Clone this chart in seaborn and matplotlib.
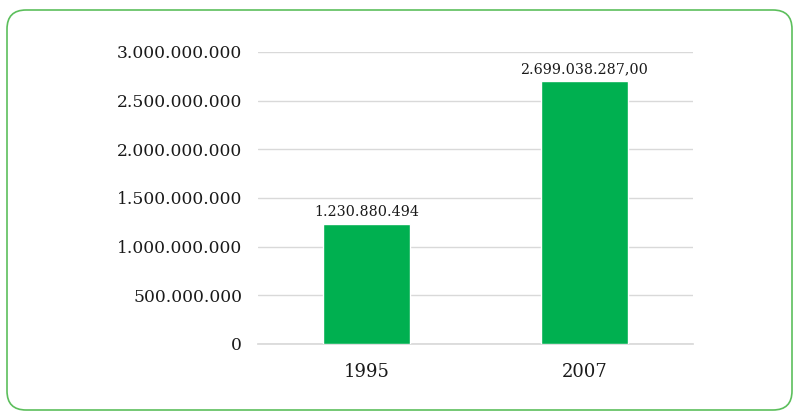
import matplotlib
matplotlib.use("Agg")
import matplotlib.pyplot as plt
import seaborn as sns
import pandas as pd
from matplotlib.patches import FancyBboxPatch
from matplotlib.ticker import FuncFormatter

years = ["1995", "2007"]
values = [1230880494, 2699038287.00]
bar_labels = ["1.230.880.494", "2.699.038.287,00"]
yticks = [0, 500000000, 1000000000, 1500000000, 2000000000, 2500000000, 3000000000]

sns.set_theme(style="white")
plt.rcParams['font.family'] = ['DejaVu Serif']

fig = plt.figure(figsize=(7.93, 4.12), dpi=100)
ax = fig.add_axes([258/793, 1-344/412, (693-258)/793, (344-52)/412])

df = pd.DataFrame({"year": years, "value": values})
sns.barplot(data=df, x="year", y="value", color="#00B050", saturation=1, width=0.4, ax=ax, zorder=3)

ax.set_ylim(0, 3000000000)
ax.set_xlim(-0.5, 1.5)
ax.set_yticks(yticks)
ax.yaxis.set_major_formatter(FuncFormatter(lambda v, p: f"{int(v):,}".replace(",", ".")))
ax.grid(axis="y", color="#d9d9d9", linewidth=1, zorder=0)
for s in ["top", "right", "left"]:
    ax.spines[s].set_visible(False)
ax.spines["bottom"].set_color("#d9d9d9")
ax.tick_params(axis="y", length=0, pad=11.5, labelsize=12.3, labelcolor="#1a1a1a")
ax.tick_params(axis="x", length=0, pad=14, labelsize=13, labelcolor="#1a1a1a")
ax.set_xlabel("")
ax.set_ylabel("")

for cont in ax.containers:
    ax.bar_label(cont, labels=bar_labels, padding=3.5, fontsize=10.3, color="#1a1a1a")

border = FancyBboxPatch((7/793, 2/412), (792-7)/793, (410-10)/412,
                        boxstyle="round,pad=0,rounding_size=0.024",
                        transform=fig.transFigure, facecolor="none",
                        edgecolor="#5cbf5c", linewidth=1.2, mutation_aspect=793/412)
fig.patches.append(border)

fig.savefig("out.png", dpi=100)
